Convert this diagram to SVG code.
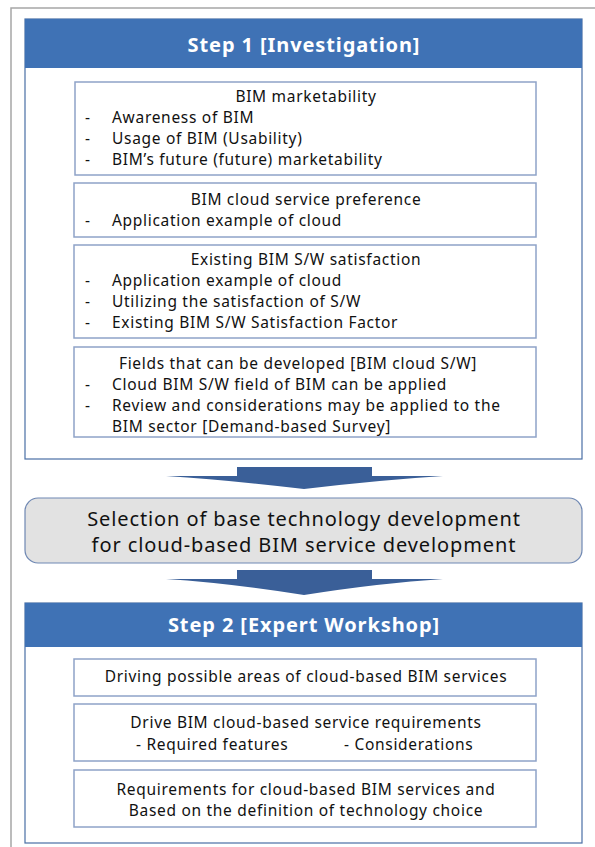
<svg xmlns="http://www.w3.org/2000/svg" width="595" height="847" viewBox="0 0 595 847">
  <style>
    text { font-family: "Noto Sans", "Noto Sans CJK KR", sans-serif; fill: #111; }
    .hdr { fill: #3f72b5; }
    .hdrtxt { fill: #ffffff; font-weight: bold; font-size: 20px; letter-spacing: 0.9px; text-anchor: middle; }
    .panel { fill: #ffffff; stroke: #4a6fa5; stroke-width: 1.2; }
    .box { fill: #ffffff; stroke: #8ea3c8; stroke-width: 1.5; }
    .t { font-size: 15.5px; letter-spacing: 0.7px; }
    .c { text-anchor: middle; }
    .big { font-size: 20px; letter-spacing: 0.9px; text-anchor: middle; }
    .arrow { fill: #3a5f98; }
  </style>

  <!-- outer frame -->
  <rect x="11" y="8" width="590" height="850" fill="#ffffff" stroke="#a6a6a6" stroke-width="1.5"/>

  <!-- Step 1 -->
  <g id="step1">
    <rect class="panel" x="25" y="19" width="557" height="440"/>
    <rect class="hdr" x="25" y="19" width="557" height="49"/>
    <text class="hdrtxt" x="304" y="52">Step 1 [Investigation]</text>
  </g>

  <g id="marketability">
    <rect class="box" x="75" y="82" width="461" height="93"/>
    <text class="t c" x="306" y="102">BIM marketability</text>
    <text class="t" x="85" y="123">-</text><text class="t" x="112" y="123">Awareness of BIM</text>
    <text class="t" x="85" y="144">-</text><text class="t" x="112" y="144">Usage of BIM (Usability)</text>
    <text class="t" x="85" y="165">-</text><text class="t" x="112" y="165">BIM’s future (future) marketability</text>
  </g>

  <g id="cloud-preference">
    <rect class="box" x="74" y="183" width="462" height="54"/>
    <text class="t c" x="306" y="205">BIM cloud service preference</text>
    <text class="t" x="85" y="226">-</text><text class="t" x="112" y="226">Application example of cloud</text>
  </g>

  <g id="sw-satisfaction">
    <rect class="box" x="74" y="245" width="462" height="93"/>
    <text class="t c" x="306" y="265">Existing BIM S/W satisfaction</text>
    <text class="t" x="85" y="286">-</text><text class="t" x="112" y="286">Application example of cloud</text>
    <text class="t" x="85" y="307">-</text><text class="t" x="112" y="307">Utilizing the satisfaction of S/W</text>
    <text class="t" x="85" y="328">-</text><text class="t" x="112" y="328">Existing BIM S/W Satisfaction Factor</text>
  </g>

  <g id="fields">
    <rect class="box" x="74" y="347" width="462" height="90"/>
    <text class="t c" x="298" y="369">Fields that can be developed [BIM cloud S/W]</text>
    <text class="t" x="85" y="390">-</text><text class="t" x="112" y="390">Cloud BIM S/W field of BIM can be applied</text>
    <text class="t" x="85" y="411">-</text><text class="t" x="112" y="411">Review and considerations may be applied to the</text>
    <text class="t" x="112" y="432">BIM sector [Demand-based Survey]</text>
  </g>

  <!-- flow arrows -->
  <g id="connectors">
    <path class="arrow" d="M237 467 H372 V476 H443 Q380 480 304 489 Q228 480 166 476 H237 Z"/>
    <path class="arrow" d="M237 570 H372 V579 H443 Q380 583 304 595 Q228 583 166 579 H237 Z"/>
  </g>

  <g id="selection">
    <rect x="25" y="498" width="557" height="65" rx="13" fill="#e2e2e2" stroke="#6f88b3" stroke-width="1.2"/>
    <text class="big" x="304" y="526">Selection of base technology development</text>
    <text class="big" x="304" y="552">for cloud-based BIM service development</text>
  </g>

  <!-- Step 2 -->
  <g id="step2">
    <rect class="panel" x="25" y="603" width="557" height="240"/>
    <rect class="hdr" x="25" y="603" width="557" height="44"/>
    <text class="hdrtxt" x="304" y="632">Step 2 [Expert Workshop]</text>
  </g>

  <g id="possible-areas">
    <rect class="box" x="74" y="659" width="462" height="37"/>
    <text class="t c" x="306" y="682">Driving possible areas of cloud-based BIM services</text>
  </g>

  <g id="requirements">
    <rect class="box" x="74" y="704" width="462" height="57"/>
    <text class="t c" x="306" y="728">Drive BIM cloud-based service requirements</text>
    <text class="t" x="136" y="750">- Required features</text>
    <text class="t" x="344" y="750">- Considerations</text>
  </g>

  <g id="technology-choice">
    <rect class="box" x="74" y="770" width="462" height="57"/>
    <text class="t c" x="306" y="795">Requirements for cloud-based BIM services and</text>
    <text class="t c" x="306" y="816">Based on the definition of technology choice</text>
  </g>
</svg>
